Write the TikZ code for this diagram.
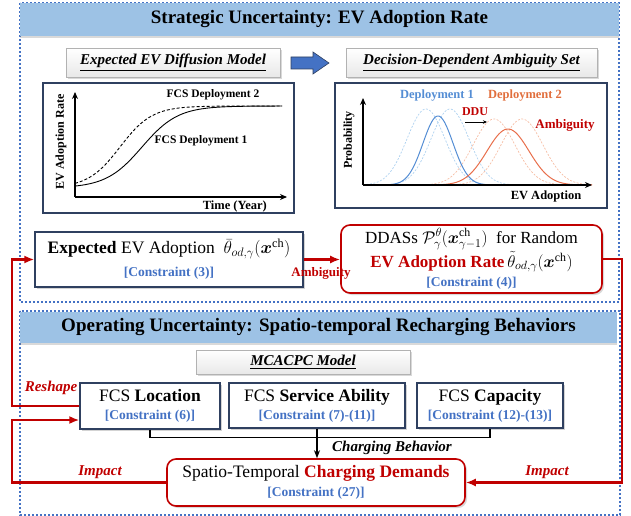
\documentclass[tikz,border=0pt]{standalone}
\usepackage{fix-cm}
\usepackage{amsmath,bm}
\usepackage{fontspec}
\setmainfont{Liberation Serif}
\usetikzlibrary{arrows.meta,shadows,calc}
\definecolor{bandblue}{RGB}{157,194,229}
\definecolor{dotblue}{RGB}{68,114,196}
\definecolor{cblue}{RGB}{68,114,196}
\definecolor{dred}{RGB}{192,0,0}
\definecolor{navy}{RGB}{47,64,96}
\definecolor{cone}{RGB}{84,141,212}
\definecolor{conel}{RGB}{175,210,240}
\definecolor{ctwo}{RGB}{232,110,75}
\definecolor{ctwol}{RGB}{246,190,165}
\definecolor{dtwo}{RGB}{225,110,60}
\newcommand{\fsz}[2]{\fontsize{#1pt}{#2pt}\selectfont}
\newcommand{\constr}{\fsz{13.5}{16}\bfseries\color{cblue}}
\begin{document}
\begin{tikzpicture}[x=1pt,y=-1pt,
  panel/.style={draw=dotblue,line width=2pt,dash pattern=on 2pt off 2pt},
  band/.style={fill=bandblue,inner sep=0pt,font=\fsz{19}{22}\bfseries,
    drop shadow={shadow xshift=0pt,shadow yshift=-2pt,opacity=0.3}},
  subbox/.style={draw=gray!60,top color=white,bottom color=gray!18,inner sep=0pt,
    font=\fsz{15}{18}\bfseries\itshape,
    drop shadow={shadow xshift=2pt,shadow yshift=-2pt,opacity=0.3}},
  chartframe/.style={draw=navy,line width=1.1pt},
  axis/.style={line width=1.2pt,-{Stealth[length=7pt,width=6pt]}},
  mainbox/.style={draw=navy,line width=1.3pt,fill=white,align=center,inner sep=2pt,
    font=\fsz{17.5}{20},
    drop shadow={shadow xshift=2pt,shadow yshift=-2pt,opacity=0.35}},
  redbox/.style={draw=dred,line width=1.6pt,rounded corners=9pt,fill=white,align=center,
    inner sep=2pt,font=\fsz{17}{20},
    drop shadow={shadow xshift=2pt,shadow yshift=-2pt,opacity=0.3}},
  redline/.style={draw=dred,line width=2.4pt},
  rarrow/.style={redline,-{Latex[length=10pt,width=8pt]}},
  lbl/.style={text=dred,font=\fsz{15}{18}\bfseries\itshape,inner sep=0pt},
  clbl/.style={font=\fsz{11.5}{14}\bfseries,inner sep=0pt},
]
\useasboundingbox (0,0) rectangle (631,516);

% ---------- panels ----------
\draw[panel] (20,3) rectangle (619,302);
\draw[panel] (20,311) rectangle (620,515);
\node[band,minimum width=599pt,minimum height=33pt] (band1) at (319.5,19.5)
  {Strategic Uncertainty: EV Adoption Rate};
\node[band,minimum width=597pt,minimum height=31pt] (band2) at (318.5,327.5)
  {Operating Uncertainty: Spatio-temporal Recharging Behaviors};

% ---------- sub titles ----------
\node[subbox,minimum width=214pt,minimum height=29pt] (diff) at (173,62.5)
  {\underline{Expected EV Diffusion Model}};
\node[subbox,minimum width=251pt,minimum height=29pt] (dda) at (471.5,62.5)
  {\underline{Decision-Dependent Ambiguity Set}};
\fill[cblue,draw=navy,line width=0.6pt] (291,57) -- (313,57) -- (313,52) -- (329,63)
  -- (313,74) -- (313,69) -- (291,69) -- cycle;

% ---------- chart 1 ----------
\draw[chartframe] (43,83) rectangle (294,213);
\draw[axis] (75,197) -- (287,197);
\draw[axis] (75,197) -- (75,92);
\draw[line width=0.9pt] plot[domain=75:282,samples=90,smooth]
  (\x,{188-82/(1+exp(-(\x-142)/18))});
\draw[line width=0.9pt,dash pattern=on 3pt off 2pt] plot[domain=75:282,samples=90,smooth]
  (\x,{188-82/(1+exp(-(\x-120)/16))});
\node[clbl] (d2) at (213,95) {FCS Deployment 2};
\node[clbl] (d1) at (201,141) {FCS Deployment 1};
\node[clbl,rotate=90,font=\fsz{12}{14}\bfseries] (yl1) at (61,142) {EV Adoption Rate};
\node[clbl,anchor=east,font=\fsz{12.5}{15}\bfseries] (xl1) at (267,206) {Time (Year)};

% ---------- chart 2 ----------
\draw[chartframe] (335,83) rectangle (607,208);
\begin{scope}[line width=0.7pt,dash pattern=on 2pt off 1.5pt]
\draw[conel] plot[domain=363:502,samples=80,smooth] (\x,{185-76*exp(-((\x-426)/19)^2/2)});
\draw[conel] plot[domain=374:526,samples=80,smooth] (\x,{185-76*exp(-((\x-450)/19)^2/2)});
\draw[ctwol] plot[domain=410:578,samples=80,smooth] (\x,{185-66*exp(-((\x-494)/21)^2/2)});
\draw[ctwol] plot[domain=438:592,samples=80,smooth] (\x,{185-66*exp(-((\x-522)/21)^2/2)});
\end{scope}
\draw[cone,line width=1pt] plot[domain=378:498,samples=80,smooth] (\x,{185-69*exp(-((\x-438)/15)^2/2)});
\draw[ctwo,line width=1pt] plot[domain=424:592,samples=80,smooth] (\x,{185-56*exp(-((\x-508)/21)^2/2)});
\draw[axis] (363,185) -- (592,185);
\draw[axis] (363,185) -- (363,98);
\node[clbl,text=cone,font=\fsz{12.5}{15}\bfseries] (dep1) at (437,96) {Deployment 1};
\node[clbl,text=dtwo,font=\fsz{12.5}{15}\bfseries] (dep2) at (525,96) {Deployment 2};
\node[clbl,text=dred,font=\fsz{12}{14}\bfseries] (ddu) at (475,112) {DDU};
\draw[line width=0.8pt,-{Stealth[length=4pt,width=3.5pt]}] (465,122) -- (487,122);
\node[clbl,text=dred,font=\fsz{13}{15}\bfseries] (amb2) at (565,125) {Ambiguity};
\node[clbl,rotate=90,font=\fsz{12}{14}\bfseries] (yl2) at (349,140) {Probability};
\node[clbl,font=\fsz{12.5}{15}\bfseries] (xl2) at (546,196) {EV Adoption};

% ---------- row boxes ----------
\node[mainbox,font=\fsz{17.5}{20},minimum width=268pt,minimum height=55pt] (exp) at (169,259.5)
  {\textbf{Expected} EV Adoption~~$\bar{\theta}_{od,\gamma}(\bm{x}^{\mathrm{ch}})$\\[3pt]
   {\constr [Constraint (3)]}};
\node[redbox,minimum width=261pt,minimum height=68pt] (ddas) at (471.5,259)
  {DDASs~$\mathcal{P}^{\theta}_{\gamma}(\bm{x}^{\mathrm{ch}}_{\gamma-1})$~~for Random\\[1pt]
   {\color{dred}\bfseries EV Adoption Rate}$\,\tilde{\theta}_{od,\gamma}(\bm{x}^{\mathrm{ch}})$\\[-1pt]
   {\constr [Constraint (4)]}};
\node[text=dred,font=\fsz{13}{15}\bfseries,inner sep=0pt] (ambl) at (321,273) {Ambiguity};

% ---------- panel 2 boxes ----------
\node[subbox,minimum width=214pt,minimum height=24pt] (mca) at (303,362)
  {\underline{MCACPC Model}};
\node[mainbox,minimum width=140pt,minimum height=46pt] (loc) at (150,406)
  {FCS \textbf{Location}\\[-2pt] {\constr [Constraint (6)]}};
\node[mainbox,minimum width=176pt,minimum height=45pt] (serv) at (317,405.5)
  {FCS \textbf{Service Ability}\\[-2pt] {\constr [Constraint (7)-(11)]}};
\node[mainbox,minimum width=146pt,minimum height=45pt] (cap) at (490,405.5)
  {FCS \textbf{Capacity}\\[-2pt] {\constr [Constraint (12)-(13)]}};
\node[redbox,font=\fsz{17.5}{20},minimum width=298pt,minimum height=47pt] (dem) at (316,482.5)
  {Spatio-Temporal {\color{dred}\bfseries Charging Demands}\\[-1pt] {\constr [Constraint (27)]}};

% ---------- connectors ----------
\coordinate (lx) at (12,0);
\coordinate (rx) at (622,0);
\draw[rarrow] (exp.east) -- (exp.east -| ddas.west);
\draw[rarrow] (loc.west) -- (loc.west -| lx) |- (exp.west);
\draw[rarrow] (dem.west) -- (dem.west -| lx) |- ([yshift=-14pt]loc.west);
\draw[rarrow] (ddas.east) -- (ddas.east -| rx) |- (dem.east);
\draw[line width=1.3pt] (loc.south) -- ++(0,8) -| (cap.south);
\draw[line width=1.3pt,-{Stealth[length=8pt,width=6pt]}] (serv.south) -- (serv.south |- dem.north);

\node[lbl] (reshape) at (51,388) {Reshape};
\node[lbl] (imp1) at (100,472) {Impact};
\node[lbl] (imp2) at (547,472) {Impact};
\node[font=\fsz{15}{18}\bfseries\itshape,inner sep=0pt] (cb) at (392,448) {Charging Behavior};
\end{tikzpicture}
\end{document}
